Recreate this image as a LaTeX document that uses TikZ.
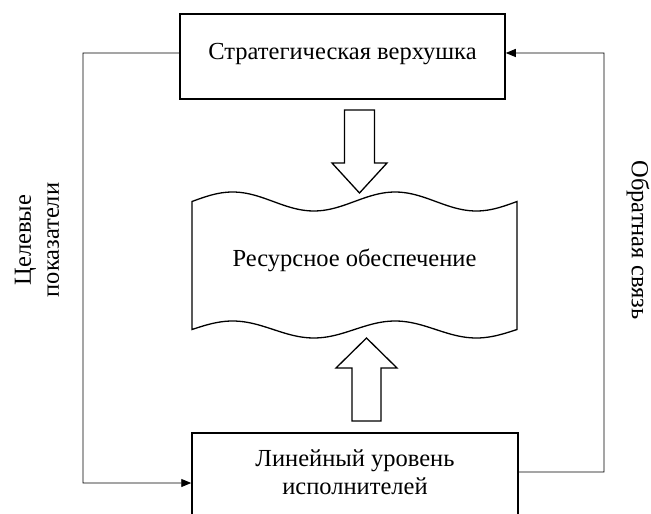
\documentclass[tikz,border=0pt]{standalone}
\usepackage{fontspec}
\setmainfont{Liberation Serif}
\usetikzlibrary{arrows.meta}
\begin{document}
\begin{tikzpicture}[x=1bp,y=-1bp,
  txt/.style={font=\fontsize{24.6}{28}\selectfont, inner sep=0pt, align=center},
  box/.style={draw, line width=1.5bp, inner sep=0pt},
  conn/.style={draw, line width=0.9bp},
  tip/.style={-{Triangle[length=10bp,width=8bp]}},
  block/.style={draw, line width=1.3bp, fill=white, line join=miter}]
\useasboundingbox (0,0) rectangle (651,514);
\clip (0,0) rectangle (651,514);
% boxes
\node[box, minimum width=325bp, minimum height=85bp] (top) at (342.5,56.5) {};
\node[txt] (toplabel) at (342.5,54) {Стратегическая верхушка};
\node[box, minimum width=326bp, minimum height=90bp] (bot) at (355,478) {};
\node[txt] (botlabel) at (355,472) {Линейный уровень\\исполнителей};
% document shape
\draw[line width=1.3bp, line join=miter]
  plot[domain=192:517, samples=90] (\x, {201.5 - 9.5*sin(2.21538*(\x-192))})
  -- (517,329.5)
  -- plot[domain=517:192, samples=90] (\x, {329.5 - 8.5*sin(2.21538*(\x-192))})
  -- cycle;
\node[txt] (doc) at (354.5,260) {Ресурсное обеспечение};
% block arrows
\draw[block] (344.5,110) -- (374.5,110) -- (374.5,163) -- (387,163) -- (359.5,193)
  -- (332,163) -- (344.5,163) -- cycle;
\draw[block] (352,421) -- (381,421) -- (381,368) -- (397,368) -- (366.5,338)
  -- (336,368) -- (352,368) -- cycle;
% connectors
\draw[conn, tip] ([yshift=3.5bp]top.west) -- (83,53) |- ([yshift=-5bp]bot.west);
\draw[conn, tip] ([yshift=6bp]bot.east) -- (604,472) |- ([yshift=3.5bp]top.east);
% side labels
\node[txt, rotate=90] (goals) at (37,240) {Целевые\\показатели};
\node[txt, rotate=-90] (feedback) at (638,240) {Обратная связь};
\end{tikzpicture}
\end{document}
